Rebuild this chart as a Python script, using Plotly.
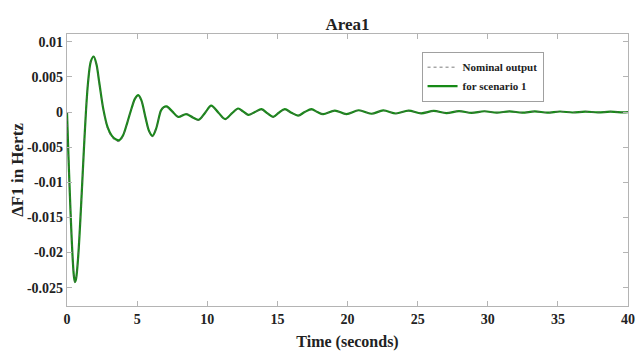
import plotly.graph_objects as go

# time samples (s)
t = [0, 0.1, 0.2, 0.3, 0.4, 0.5, 0.57, 0.65, 0.8, 1.0, 1.2, 1.35, 1.5, 1.7, 1.9,
     2.1, 2.3, 2.6, 2.9, 3.2, 3.5, 3.73, 4.0, 4.3, 4.6, 4.85, 5.08, 5.3, 5.6, 5.85,
     6.1, 6.35, 6.7, 6.9, 7.1, 7.5, 7.93, 8.5, 9.0, 9.4, 9.85, 10.28, 10.8, 11.28,
     11.75, 12.2, 12.55, 12.92, 13.4, 13.87, 14.3, 14.7, 15.1, 15.53, 16.0, 16.48,
     16.95, 17.43, 17.85, 18.26, 19.1, 19.92, 20.8, 21.7, 22.55, 23.45, 24.35,
     25.25, 26.15, 27.05, 27.95, 28.85, 29.75, 30.65, 31.55, 32.45, 33.35, 34.25,
     35.15, 36.05, 36.95, 37.85, 38.75, 39.65, 40]

scenario1 = [0, -0.006, -0.0115, -0.0165, -0.0207, -0.0235, -0.0242, -0.0237, -0.0205,
             -0.0135, -0.0055, 0.0, 0.0042, 0.0072, 0.0079, 0.0068, 0.0042, 0.0003,
             -0.0022, -0.0034, -0.0039, -0.0040, -0.0033, -0.0015, 0.0005, 0.0019,
             0.0024, 0.0017, -0.0008, -0.0027, -0.0034, -0.0024, 0.0002, 0.0007,
             0.0008, 0.0001, -0.0007, -0.0003, -0.0008, -0.0011, -0.0001, 0.0009,
             -0.0001, -0.0010, -0.0002, 0.0005, 0.0001, -0.0004, 0.0, 0.0004, -0.0002,
             -0.0007, -0.0001, 0.0004, -0.0001, -0.0005, 0.0, 0.0004, 0.0, -0.0003,
             0.0002, -0.0003, 0.00025, -0.00025, 0.00022, -0.00021, 0.0002, -0.00018,
             0.00016, -0.00015, 0.00013, -0.00012, 0.00011, -0.0001, 0.0001, -0.00009,
             0.00008, -0.00008, 0.00007, -0.00007, 0.00006, -0.00006, 0.00005, -0.00005,
             -0.00002]

nominal = [0, -0.006, -0.0115, -0.0165, -0.0207, -0.0235, -0.0242, -0.0237, -0.0205,
           -0.0135, -0.0055, 0.0, 0.0042, 0.0072, 0.0078, 0.0067, 0.0041, 0.0002,
           -0.0024, -0.0036, -0.0041, -0.0042, -0.0034, -0.0015, 0.0005, 0.0019,
           0.0023, 0.0016, -0.0009, -0.0028, -0.0035, -0.0024, 0.0002, 0.0007,
           0.0007, 0.0000, -0.0007, -0.0002, -0.0008, -0.0012, -0.0001, 0.0008,
           -0.0001, -0.0011, -0.0002, 0.0004, 0.0000, -0.0004, 0.0, 0.0003, -0.0002,
           -0.0007, -0.0001, 0.0003, -0.0001, -0.0005, 0.0, 0.0003, 0.0, -0.0003,
           0.0002, -0.0003, 0.00025, -0.00025, 0.00022, -0.00021, 0.0002, -0.00018,
           0.00016, -0.00015, 0.00013, -0.00012, 0.00011, -0.0001, 0.0001, -0.00009,
           0.00008, -0.00008, 0.00007, -0.00007, 0.00006, -0.00006, 0.00005, -0.00005,
           -0.00002]

x_ticks = [0, 5, 10, 15, 20, 25, 30, 35, 40]
x_labels = ["0", "5", "10", "15", "20", "25", "30", "35", "40"]
y_ticks = [0.01, 0.005, 0, -0.005, -0.01, -0.015, -0.02, -0.025]
y_labels = ["0.01", "0.005", "0", "-0.005", "-0.01", "-0.015", "-0.02", "-0.025"]

FONT = "Liberation Serif"
AXIS_GREY = "#b4b4b4"
TXT = "#222222"

# page body adds an 8px offset; figure sized so the plot lands where the reference has it
W, H = 635, 348

fig = go.Figure()
fig.add_trace(go.Scatter(
    x=t, y=scenario1, mode="lines", name="<b>for scenario 1</b>", legendrank=2,
    line=dict(color="rgb(22,138,22)", width=2.2, shape="spline", smoothing=0.9)))
fig.add_trace(go.Scatter(
    x=t, y=nominal, mode="lines", name="<b>Nominal output</b>", legendrank=1,
    line=dict(color="rgba(90,90,90,0.8)", width=1, dash="dot", shape="spline", smoothing=0.9)))

fig.update_layout(
    width=W, height=H,
    margin=dict(l=59, r=15, t=26, b=50, autoexpand=False),
    paper_bgcolor="white", plot_bgcolor="white",
    font=dict(family=FONT, color=TXT),
    title=dict(text="<b>Area1</b>", font=dict(size=17, family=FONT, color=TXT),
               x=339.5 / W, xanchor="center", xref="container",
               y=1 - 16 / H, yanchor="middle", yref="container"),
    showlegend=True,
    legend=dict(x=0.632, y=0.935, xanchor="left", yanchor="top",
                bgcolor="white", bordercolor="#a0a0a0", borderwidth=1,
                font=dict(size=11, family=FONT, color=TXT),
                itemwidth=30, tracegroupgap=0),
)

fig.update_xaxes(
    range=[0, 40], tickvals=x_ticks, ticktext=["<b>%s</b>" % s for s in x_labels],
    tickfont=dict(size=14, family=FONT, color=TXT), automargin=False,
    showgrid=False, zeroline=False,
    showline=True, linecolor=AXIS_GREY, linewidth=1.2, mirror="ticks",
    ticks="inside", ticklen=5, tickcolor=AXIS_GREY, tickwidth=1,
    title=dict(text="<b>Time (seconds)</b>", font=dict(size=16, family=FONT, color=TXT),
               standoff=9),
)
fig.update_yaxes(
    range=[-0.0276, 0.0111], tickvals=y_ticks, ticktext=["<b>%s</b>" % s for s in y_labels],
    tickfont=dict(size=14, family=FONT, color=TXT), automargin=False,
    showgrid=False, zeroline=False,
    showline=True, linecolor=AXIS_GREY, linewidth=1.2, mirror="ticks",
    ticks="inside", ticklen=5, tickcolor=AXIS_GREY, tickwidth=1,
    title=dict(text="<b>ΔF1 in Hertz</b>", font=dict(size=17, family=FONT, color=TXT),
               standoff=2),
)

fig.write_html("out.html")
